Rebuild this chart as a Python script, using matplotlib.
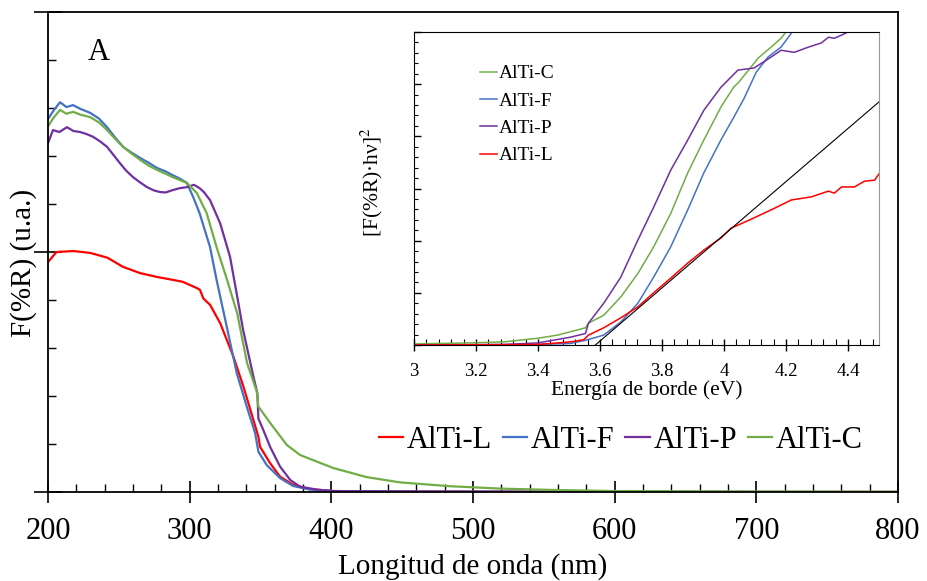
import numpy as np
import matplotlib
matplotlib.use('Agg')
import matplotlib.pyplot as plt
from matplotlib.ticker import MultipleLocator

plt.rcParams['font.family'] = ['Liberation Serif', 'DejaVu Serif']
plt.rcParams['mathtext.fontset'] = 'stix'

# ---------------- main spectra (wavelength nm, F(%R) a.u.) ----------------
wl_L = [200, 206, 218, 230, 242, 253, 265, 277, 288, 295, 305, 307.3, 309.7, 314.4, 321.5,
        330.9, 338, 345, 348.5, 349.7, 356.8, 363.8, 373, 385, 401, 450, 600, 800]
f_L = [4.79, 5.0, 5.02, 4.98, 4.88, 4.69, 4.56, 4.48, 4.42, 4.38, 4.25, 4.21, 4.03, 3.9, 3.52,
       2.82, 2.19, 1.5, 1.15, 0.94, 0.6, 0.32, 0.15, 0.06, 0.02, 0.01, 0.0, 0.0]

wl_F = [200, 204, 208.5, 213, 217.7, 223, 229.7, 236, 241.7, 247, 253, 259, 265, 271, 277, 283,
        288, 293, 298, 302.4, 307, 314.4, 319, 326.2, 333.3, 340.3, 346.2, 348.5, 354.4, 363.8,
        373, 385, 401, 450, 600, 800]
f_F = [7.77, 7.95, 8.12, 8.02, 8.06, 7.98, 7.9, 7.78, 7.6, 7.4, 7.19, 7.07, 6.96, 6.86, 6.75,
       6.68, 6.6, 6.53, 6.44, 6.15, 5.81, 5.1, 4.42, 3.44, 2.47, 1.78, 1.23, 0.84, 0.56, 0.29,
       0.125, 0.05, 0.02, 0.01, 0.0, 0.0]

wl_P = [200, 203.5, 208, 213.4, 218, 222.6, 227, 231.8, 237, 241.7, 246, 250.8, 255, 260, 265,
        270, 275, 279, 283, 288, 293, 298, 303, 307, 310, 314.4, 321.5, 328.5, 334, 337.7,
        345, 347.8, 348.5, 352, 356.8, 363.8, 371, 378, 389.8, 401, 450, 600, 800]
f_P = [7.27, 7.54, 7.5, 7.6, 7.52, 7.5, 7.46, 7.4, 7.3, 7.19, 7.03, 6.85, 6.7, 6.56, 6.45,
       6.35, 6.28, 6.25, 6.24, 6.29, 6.33, 6.35, 6.4, 6.33, 6.25, 6.08, 5.6, 4.9, 4.0, 3.38,
       2.4, 2.06, 1.53, 1.29, 0.94, 0.53, 0.25, 0.11, 0.05, 0.02, 0.01, 0.0, 0.0]

wl_C = [200, 204, 208.5, 213, 217.7, 223, 229.7, 236, 241.7, 247, 253, 259, 265, 271, 277, 283,
        288, 293, 298, 305, 312, 319, 326.4, 333.5, 340.5, 347.4, 348.5, 356.8, 368.6, 378,
        401.3, 425, 448.6, 484, 520, 560, 600, 700, 800]
f_C = [7.62, 7.8, 7.96, 7.88, 7.92, 7.86, 7.81, 7.7, 7.54, 7.37, 7.19, 7.05, 6.92, 6.8, 6.71,
       6.63, 6.56, 6.5, 6.44, 6.23, 5.81, 5.1, 4.42, 3.73, 2.69, 2.09, 1.78, 1.44, 0.98, 0.77,
       0.5, 0.31, 0.2, 0.12, 0.07, 0.04, 0.02, 0.01, 0.005]

# ---------------- inset: Tauc plot (eV, [F(%R).hv]^2) ----------------
e_C = [3.0, 3.18, 3.29, 3.4, 3.463, 3.528, 3.553, 3.563, 3.612, 3.667, 3.722, 3.773, 3.828,
       3.883, 3.935, 3.99, 4.032, 4.045, 4.097, 4.11, 4.152, 4.184, 4.2]
t_C = [0.02, 0.04, 0.06, 0.13, 0.19, 0.29, 0.33, 0.42, 0.57, 0.92, 1.37, 1.88, 2.52,
       3.3, 3.93, 4.56, 4.95, 5.02, 5.4, 5.5, 5.71, 5.88, 6.0]

e_F = [3.0, 3.4, 3.505, 3.56, 3.612, 3.667, 3.722, 3.773, 3.828, 3.883, 3.935, 3.99, 4.032,
       4.065, 4.104, 4.142, 4.184, 4.22]
t_F = [0.0, 0.01, 0.03, 0.1, 0.19, 0.44, 0.8, 1.3, 1.88, 2.59, 3.3, 3.93, 4.37,
       4.73, 5.23, 5.52, 5.71, 6.0]

e_P = [3.0, 3.29, 3.4, 3.505, 3.553, 3.563, 3.612, 3.667, 3.722, 3.773, 3.828, 3.883, 3.935,
       3.99, 4.045, 4.097, 4.152, 4.184, 4.227, 4.272, 4.314, 4.337, 4.356, 4.379, 4.4]
t_P = [0.0, 0.01, 0.04, 0.15, 0.22, 0.42, 0.8, 1.3, 2.01, 2.64, 3.35, 3.93, 4.5,
       4.94, 5.27, 5.31, 5.52, 5.65, 5.61, 5.71, 5.79, 5.9, 5.88, 5.94, 6.0]

e_L = [3.0, 3.4, 3.505, 3.547, 3.563, 3.612, 3.667, 3.722, 3.773, 3.828, 3.883, 3.935, 3.99,
       4.023, 4.087, 4.152, 4.217, 4.282, 4.337, 4.356, 4.379, 4.421, 4.453, 4.486, 4.5]
t_L = [0.0, 0.01, 0.06, 0.1, 0.19, 0.33, 0.52, 0.73, 1.0, 1.28, 1.57, 1.82, 2.05,
       2.24, 2.41, 2.59, 2.78, 2.84, 2.95, 2.91, 3.03, 3.03, 3.14, 3.16, 3.28]

# tangent line used for the band-gap estimate
tan_e = [3.585, 4.5]
tan_t = [0.0, 4.66]

red = '#FF0000'
blue = '#4472C4'
purple = '#7030A0'
green = '#70AD47'

fig = plt.figure(figsize=(9.27, 5.81), dpi=100)
ax = fig.add_axes([48 / 927, 1 - 492 / 581, 850 / 927, 480 / 581])

ax.plot(wl_L, f_L, color=red, lw=1.6, label='AlTi-L')
ax.plot(wl_F, f_F, color=blue, lw=1.6, label='AlTi-F')
ax.plot(wl_P, f_P, color=purple, lw=1.6, label='AlTi-P')
ax.plot(wl_C, f_C, color=green, lw=1.6, label='AlTi-C')

ax.set_xlim(200, 800)
ax.set_ylim(0, 10)
ax.xaxis.set_major_locator(MultipleLocator(100))
ax.xaxis.set_minor_locator(MultipleLocator(20))
ax.yaxis.set_major_locator(MultipleLocator(5))
ax.yaxis.set_minor_locator(MultipleLocator(1))
ax.tick_params(axis='x', which='major', direction='inout', length=16, width=1.2,
               labelsize=22, pad=10)
ax.tick_params(axis='x', which='minor', direction='in', length=6, width=1.0)
ax.tick_params(axis='y', which='major', direction='inout', length=20, width=1.2,
               labelleft=False)
ax.tick_params(axis='y', which='minor', direction='in', length=6, width=1.0)
for s in ax.spines.values():
    s.set_linewidth(1.3)

ax.set_xlabel('Longitud de onda (nm)', fontsize=21, labelpad=5)
ax.set_ylabel('F(%R) (u.a.)', fontsize=21)
ax.yaxis.set_label_coords(-0.013, 0.478)
ax.text(0.047, 0.915, 'A', transform=ax.transAxes, fontsize=22, va='center')

ax.legend(loc='center', bbox_to_anchor=(0.674, 0.107), ncol=4, frameon=False,
          fontsize=22, handlelength=0.8, handletextpad=0.12, columnspacing=0.35,
          borderaxespad=0)

# ---------------- inset ----------------
ins = fig.add_axes([414 / 927, 1 - 345 / 581, 465 / 927, 313 / 581])
ins.plot(e_C, t_C, color=green, lw=1.1, label='AlTi-C')
ins.plot(e_F, t_F, color=blue, lw=1.1, label='AlTi-F')
ins.plot(e_P, t_P, color=purple, lw=1.1, label='AlTi-P')
ins.plot(e_L, t_L, color=red, lw=1.1, label='AlTi-L')
ins.plot(tan_e, tan_t, color='black', lw=0.8)

ins.set_xlim(3, 4.5)
ins.set_ylim(0, 6)
ins.xaxis.set_major_locator(MultipleLocator(0.2))
ins.xaxis.set_minor_locator(MultipleLocator(0.04))
ins.yaxis.set_major_locator(MultipleLocator(1))
ins.yaxis.set_minor_locator(MultipleLocator(0.2))
ins.set_xticks([3, 3.2, 3.4, 3.6, 3.8, 4, 4.2, 4.4])
ins.set_xticklabels(['3', '3.2', '3.4', '3.6', '3.8', '4', '4.2', '4.4'])
ins.tick_params(axis='x', which='major', direction='inout', length=8, width=1.0,
                labelsize=13.5, pad=9)
ins.tick_params(axis='x', which='minor', direction='in', length=4, width=0.8)
ins.tick_params(axis='y', which='major', direction='in', length=5, width=1.0,
                labelleft=False)
ins.tick_params(axis='y', which='minor', direction='in', length=3, width=0.8)
ins.spines['right'].set_color('#999999')
ins.set_xlabel('Energía de borde (eV)', fontsize=15.5, labelpad=0)
ins.set_ylabel('[F(%R)·hν]$^2$', fontsize=15.5)
ins.yaxis.set_label_coords(-0.062, 0.52)
ins.legend(loc='upper left', bbox_to_anchor=(0.125, 0.92), frameon=False, fontsize=14,
           handlelength=0.9, handletextpad=0.05, labelspacing=0.5, borderaxespad=0)

plt.savefig('out.png', dpi=100)
